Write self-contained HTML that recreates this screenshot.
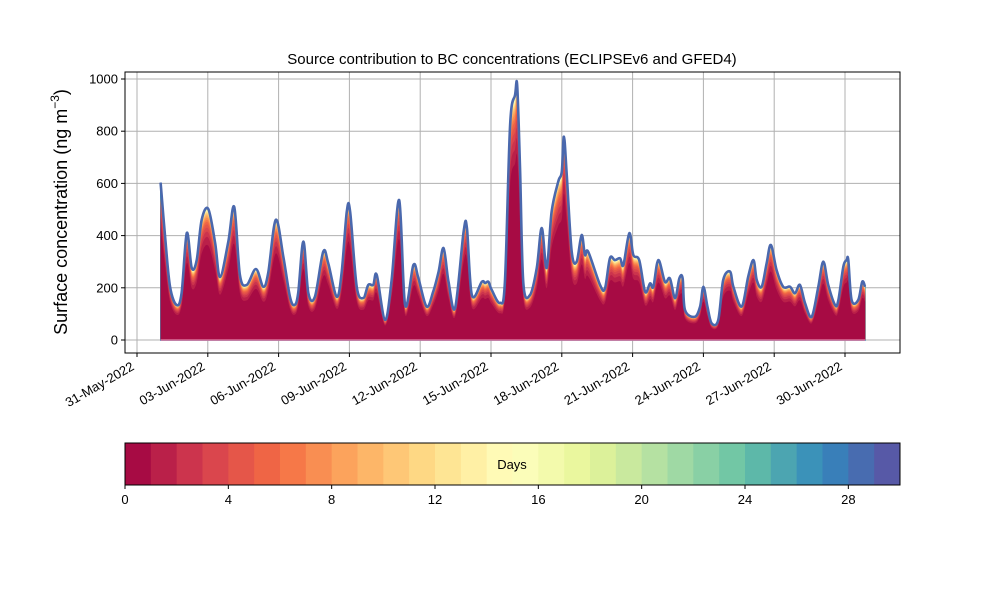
<!DOCTYPE html>
<html><head><meta charset="utf-8">
<style>
html,body{margin:0;padding:0;background:#fff;}
svg{display:block;font-family:"Liberation Sans","DejaVu Sans",sans-serif;}
</style></head>
<body>
<svg id="chart" width="1000" height="600" viewBox="0 0 1000 600">
  <rect x="0" y="0" width="1000" height="600" fill="#fff"/>
  <text x="512" y="64" text-anchor="middle" font-size="15" fill="#000">Source contribution to BC concentrations (ECLIPSEv6 and GFED4)</text>
  <text transform="translate(67,212) rotate(-90)" text-anchor="middle" font-size="18" fill="#000">Surface concentration (ng m<tspan font-size="12" dy="-8">−3</tspan><tspan dy="8">)</tspan></text>
  <g id="grid"></g>
  <g id="layers"></g>
  <g id="axes"></g>
  <g id="cbar"></g>
</svg>
<script>
// ---- data ----
const dayOffsets = [1.00,1.19,1.40,1.68,1.89,2.11,2.32,2.53,2.74,3.02,3.31,3.52,3.87,4.12,4.36,4.65,5.04,5.35,5.56,5.88,6.20,6.48,6.67,6.83,7.05,7.26,7.54,7.89,8.10,8.46,8.67,8.89,9.03,9.31,9.59,9.80,10.01,10.16,10.51,10.79,11.11,11.36,11.71,11.92,12.27,12.55,12.78,12.99,13.20,13.48,13.84,13.98,14.19,14.61,14.75,14.89,15.03,15.38,15.59,15.81,16.02,16.11,16.23,16.37,16.65,16.94,17.15,17.36,17.57,17.85,18.00,18.09,18.21,18.42,18.63,18.84,18.98,19.12,19.62,19.83,20.04,20.25,20.47,20.61,20.86,21.03,21.28,21.53,21.74,21.88,22.09,22.37,22.58,22.80,22.98,23.12,23.22,23.64,23.86,24.00,24.17,24.35,24.63,24.84,25.13,25.27,25.62,25.90,26.12,26.26,26.47,26.68,26.86,27.10,27.38,27.67,27.88,28.09,28.31,28.59,28.87,29.08,29.29,29.58,29.72,29.93,30.07,30.14,30.28,30.56,30.73,30.85];
const totalValues = [603,396,204,134,180,410,276,306,460,502,372,241,377,510,249,211,272,204,257,460,319,166,134,180,377,180,166,338,295,166,257,492,492,204,161,211,211,249,77,230,536,134,287,238,128,185,262,352,223,123,415,429,172,223,218,223,192,142,223,824,939,974,658,218,172,276,429,276,492,607,645,779,632,338,300,402,326,338,211,198,313,306,313,287,409,326,306,185,217,204,306,223,236,160,236,236,115,89,128,204,128,64,77,230,262,204,128,243,306,230,204,294,364,268,204,204,179,211,140,89,204,300,211,134,153,281,306,306,153,153,223,204];
const cumulativeShare = [0.72,0.78,0.82,0.85,0.875,0.895,0.91,0.925,0.937,0.947,0.956,0.963,0.969,0.974,0.978,0.982,0.985,0.988,0.99,0.992,0.994,0.995,0.996,0.997,0.998,0.9985,0.999,0.9995,0.9998,1];
const yTicks = [0,200,400,600,800,1000];
const xTickDays = [0,3,6,9,12,15,18,21,24,27,30];
const xTickLabels = ["31-May-2022","03-Jun-2022","06-Jun-2022","09-Jun-2022","12-Jun-2022","15-Jun-2022","18-Jun-2022","21-Jun-2022","24-Jun-2022","27-Jun-2022","30-Jun-2022"];
const cbarTicks = [0,4,8,12,16,20,24,28];

// ---- scales ----
const L=125,R=900,T=72,B=353;
const xs = d => 137 + d*23.6;
const ys = v => 340 - v*0.261;
const NS="http://www.w3.org/2000/svg";
function mk(tag, attrs, parent){const e=document.createElementNS(NS,tag);for(const k in attrs)e.setAttribute(k,attrs[k]);parent.appendChild(e);return e;}

const anchors=["#9e0142","#d53e4f","#f46d43","#fdae61","#fee08b","#ffffbf","#e6f598","#abdda4","#66c2a5","#3288bd","#5e4fa2"];
function hex(h){return [1,3,5].map(i=>parseInt(h.substr(i,2),16));}
function spectral(t){const p=t*10,i=Math.min(9,Math.floor(p)),f=p-i;const a=hex(anchors[i]),b=hex(anchors[i+1]);return "rgb("+a.map((c,k)=>Math.round(c+(b[k]-c)*f)).join(",")+")";}

// smooth path through points (Catmull-Rom -> Bezier), continues from current point
function smooth(pts){
  let d="";
  for(let i=0;i<pts.length-1;i++){
    const p0=pts[Math.max(0,i-1)],p1=pts[i],p2=pts[i+1],p3=pts[Math.min(pts.length-1,i+2)];
    const c1=[p1[0]+(p2[0]-p0[0])/6,p1[1]+(p2[1]-p0[1])/6];
    const c2=[p2[0]-(p3[0]-p1[0])/6,p2[1]-(p3[1]-p1[1])/6];
    d+=` C${c1[0].toFixed(2)},${c1[1].toFixed(2)} ${c2[0].toFixed(2)},${c2[1].toFixed(2)} ${p2[0].toFixed(2)},${p2[1].toFixed(2)}`;
  }
  return d;
}

const gridG=document.getElementById('grid'), axesG=document.getElementById('axes'), layersG=document.getElementById('layers'), cbarG=document.getElementById('cbar');

// grid
yTicks.forEach(v=>{
  const g=mk('line',{x1:L,x2:R,y1:ys(v),y2:ys(v),stroke:'#b0b0b0','stroke-width':1},gridG);
  
  
});
xTickDays.forEach(d=>{
  const g=mk('line',{x1:xs(d),x2:xs(d),y1:T,y2:B,stroke:'#b0b0b0','stroke-width':1},gridG);
  
  
});

// layers
const x0=xs(dayOffsets[0]), xN=xs(dayOffsets[dayOffsets.length-1]);
for(let k=cumulativeShare.length-1;k>=0;k--){
  const pts=dayOffsets.map((t,i)=>[xs(t),Math.min(ys(0),ys(totalValues[i]*cumulativeShare[k]))]);
  let d="M"+x0.toFixed(2)+","+ys(0)+" L"+pts[0][0].toFixed(2)+","+pts[0][1].toFixed(2)+smooth(pts)+" L"+xN.toFixed(2)+","+ys(0)+" Z";
  const p=mk('path',{d:d,fill:spectral((k+0.5)/30),stroke:k>=26?spectral((k+0.5)/30):'none','stroke-width':k>=26?1.2:0},layersG);
  
  
}
// top outline
const topPts=dayOffsets.map((t,i)=>[xs(t),ys(totalValues[i])]);
const topPath="M"+topPts[0][0].toFixed(2)+","+topPts[0][1].toFixed(2)+smooth(topPts);
const tl=mk('path',{d:topPath,fill:'none',stroke:'#4a68ad','stroke-width':2.6,'stroke-linejoin':'round'},layersG);


const bl=mk('line',{x1:x0,x2:xN,y1:ys(0),y2:ys(0),stroke:'#d9739a','stroke-width':1.5},layersG);



// frame
const fr=mk('rect',{x:L,y:T,width:R-L,height:B-T,fill:'none',stroke:'#000','stroke-width':1},axesG);


yTicks.forEach(v=>{
  const tk=mk('line',{x1:L-4,x2:L,y1:ys(v),y2:ys(v),stroke:'#000'},axesG);
  
  
  const tx=mk('text',{x:L-7,y:ys(v)+4.5,'text-anchor':'end','font-size':13},axesG);
  tx.textContent=v;
  
  
});
xTickDays.forEach((d,i)=>{
  const x=xs(d);
  const tk=mk('line',{x1:x,x2:x,y1:B,y2:B+4,stroke:'#000'},axesG);
  
  
  const tx=mk('text',{transform:`translate(${x-2},${B+16}) rotate(-30)`,'text-anchor':'end','font-size':13},axesG);
  tx.textContent=xTickLabels[i];
  
  
});

// colorbar
const CL=125,CR=900,CT=443,CB=485,n=30,w=(CR-CL)/n;
for(let i=0;i<n;i++){
  const r=mk('rect',{x:CL+i*w,y:CT,width:w+0.5,height:CB-CT,fill:spectral((i+0.5)/30)},cbarG);
  
  
}
const cf=mk('rect',{x:CL,y:CT,width:CR-CL,height:CB-CT,fill:'none',stroke:'#000'},cbarG);


const dl=mk('text',{x:512,y:469,'text-anchor':'middle','font-size':13},cbarG);
dl.textContent='Days';


cbarTicks.forEach(v=>{
  const x=CL+v*w;
  const tk=mk('line',{x1:x,x2:x,y1:CB,y2:CB+4,stroke:'#000'},cbarG);
  
  
  const tx=mk('text',{x:x,y:CB+19,'text-anchor':'middle','font-size':13},cbarG);
  tx.textContent=v;
  
  
});
</script>
</body></html>
